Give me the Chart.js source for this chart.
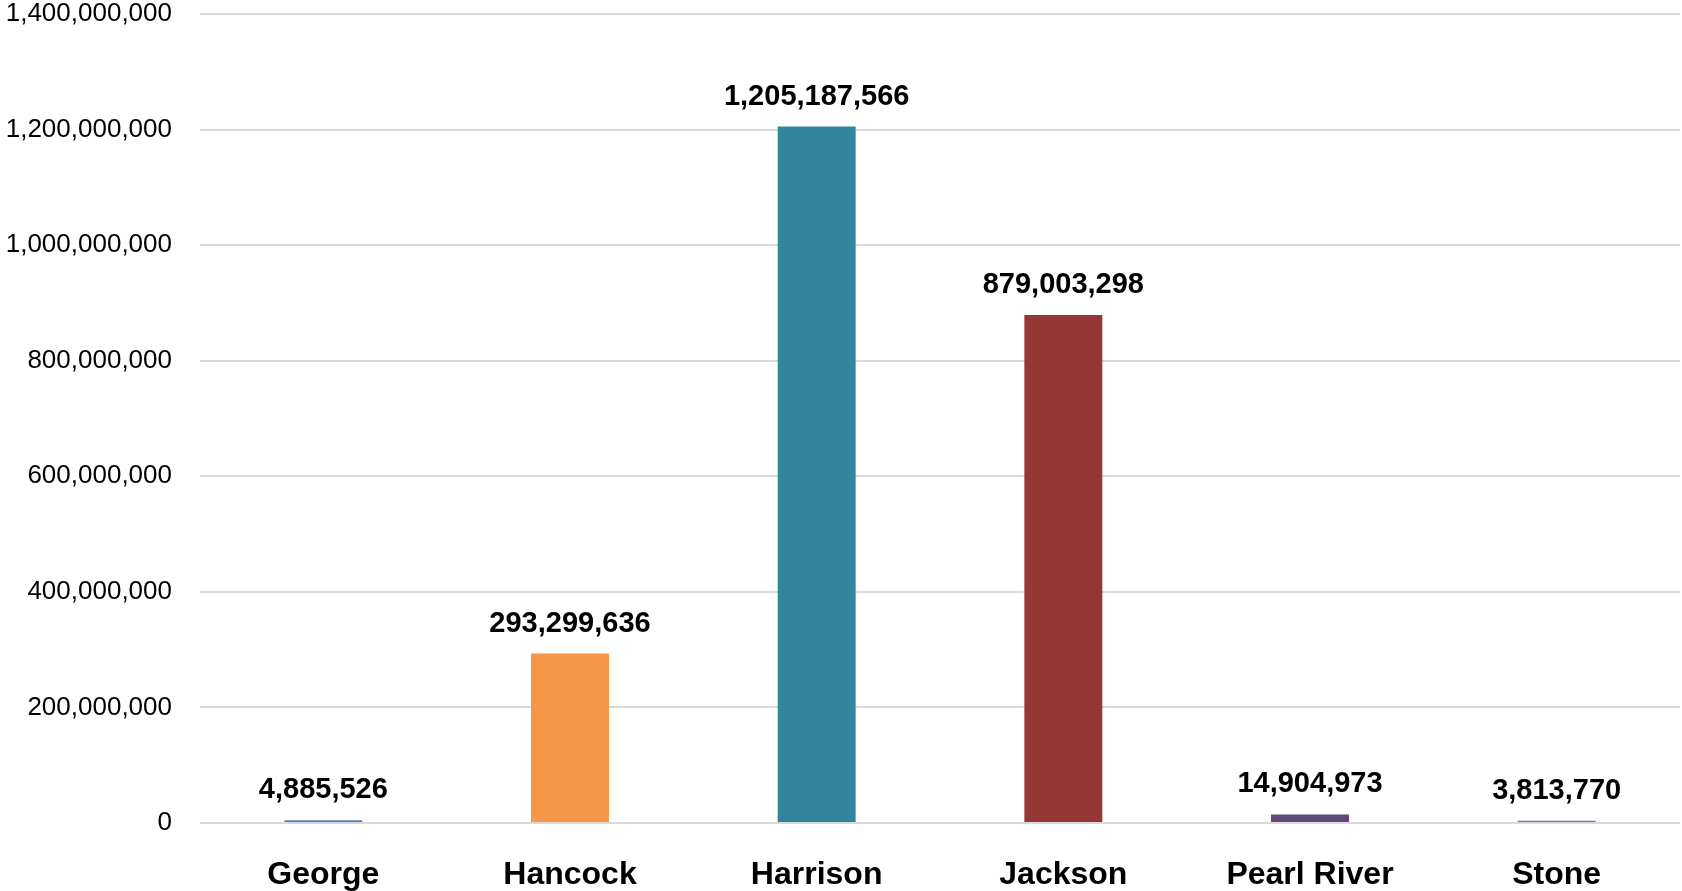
<!DOCTYPE html>
<html>
<head>
<meta charset="utf-8">
<script src="https://cdn.jsdelivr.net/npm/chart.js@4"></script>
<style>
  body { margin: 0; background: #fff; }
  #wrap { width: 1682px; height: 891px; position: relative; }
</style>
</head>
<body>
<div id="wrap"><canvas id="myChart"></canvas></div>
<script>
const counties = ['George', 'Hancock', 'Harrison', 'Jackson', 'Pearl River', 'Stone']
const amounts = [4885526, 293299636, 1205187566, 879003298, 14904973, 3813770]
const barColors = ['#4f81bd', '#f79646', '#31859c', '#953735', '#604a7b', '#4f81bd']
const yTicks = [0, 200000000, 400000000, 600000000, 800000000, 1000000000, 1200000000, 1400000000]

// draws the bold value above each bar
const valueLabels = {
    id: 'valueLabels',
    afterDatasetsDraw(chart) {
        const ctx = chart.ctx
        const meta = chart.getDatasetMeta(0)
        ctx.save()
        ctx.font = 'bold 29px "Liberation Sans"'
        ctx.fillStyle = '#000'
        ctx.textAlign = 'center'
        ctx.textBaseline = 'alphabetic'
        meta.data.forEach((bar, i) => {
            ctx.fillText(amounts[i].toLocaleString('en-US'), bar.x, bar.y - 22)
        })
        ctx.restore()
    }
}

var ctx = document.getElementById('myChart').getContext('2d')
var chart = new Chart(ctx, {
    type: 'bar',
    data: {
        labels: counties,
        datasets: [{
            data: amounts,
            backgroundColor: barColors,
            borderWidth: 0,
            categoryPercentage: 1,
            barPercentage: 0.316
        }]
    },
    options: {
        responsive: true,
        maintainAspectRatio: false,
        animation: false,
        layout: { padding: { top: 0, right: 2, bottom: 0, left: 0 } },
        plugins: {
            legend: { display: false },
            tooltip: { enabled: false }
        },
        scales: {
            x: {
                afterFit: s => { s.height = 68 },
                grid: { display: false, drawTicks: false },
                border: { display: false },
                ticks: {
                    color: '#000',
                    padding: 33,
                    font: { family: 'Liberation Sans', size: 32, weight: 'bold' }
                }
            },
            y: {
                min: 0,
                max: 1400000000,
                afterBuildTicks: s => { s.ticks = yTicks.map(v => ({ value: v })) },
                afterFit: s => {
                    s.width = 200
                    s.paddingTop = 14
                    s.paddingBottom = 0
                },
                grid: { color: '#d9d9d9', lineWidth: 2, drawTicks: false },
                border: { display: false },
                ticks: {
                    color: '#000',
                    padding: 28,
                    font: { family: 'Liberation Sans', size: 26 },
                    callback: v => v.toLocaleString('en-US')
                }
            }
        }
    },
    plugins: [valueLabels]
})
</script>
</body>
</html>
